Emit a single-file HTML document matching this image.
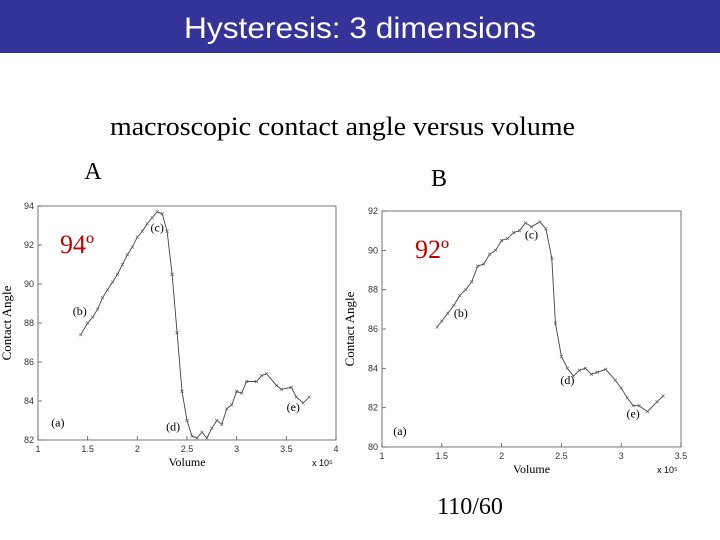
<!DOCTYPE html>
<html><head><meta charset="utf-8"><style>
html,body{margin:0;padding:0;background:#fff;}
svg{display:block;}
</style></head><body>
<svg width="720" height="540" viewBox="0 0 720 540" xmlns="http://www.w3.org/2000/svg">
<rect x="0" y="0" width="720" height="53" fill="#333399"/>
<text x="360" y="38" text-anchor="middle" fill="#fff" font-family="Liberation Sans, sans-serif" font-size="30" textLength="352" lengthAdjust="spacingAndGlyphs">Hysteresis: 3 dimensions</text>
<text x="110" y="135" font-family="Liberation Serif, serif" font-size="26" textLength="465" lengthAdjust="spacingAndGlyphs">macroscopic contact angle versus volume</text>
<text x="93" y="179" text-anchor="middle" font-family="Liberation Serif, serif" font-size="24">A</text>
<text x="439" y="186" text-anchor="middle" font-family="Liberation Serif, serif" font-size="24">B</text>
<text x="470" y="514" text-anchor="middle" font-family="Liberation Serif, serif" font-size="24">110/60</text>
<g id="chartA"></g>
<g id="chartB"></g>
</svg>
<script>
const aVolume=[1.43,1.5,1.55,1.6,1.65,1.7,1.75,1.8,1.85,1.9,1.95,2.0,2.05,2.1,2.15,2.2,2.25,2.3,2.35,2.4,2.45,2.5,2.55,2.6,2.65,2.7,2.75,2.8,2.85,2.9,2.95,3.0,3.05,3.1,3.2,3.25,3.3,3.4,3.45,3.55,3.6,3.67,3.73];
const aAngle=[87.4,88,88.3,88.7,89.3,89.7,90.1,90.5,91,91.5,91.9,92.4,92.7,93.1,93.4,93.7,93.6,92.7,90.5,87.5,84.5,83,82.2,82.1,82.4,82.1,82.6,83,82.8,83.6,83.8,84.5,84.4,85,85,85.3,85.4,84.8,84.6,84.7,84.2,83.9,84.2];
const bVolume=[1.46,1.5,1.55,1.6,1.65,1.7,1.75,1.8,1.85,1.9,1.95,2.0,2.05,2.1,2.15,2.2,2.25,2.32,2.37,2.42,2.45,2.5,2.55,2.6,2.65,2.7,2.75,2.8,2.87,2.95,3.0,3.05,3.1,3.15,3.22,3.3,3.35];
const bAngle=[86.1,86.4,86.8,87.2,87.7,88,88.4,89.2,89.3,89.8,90,90.5,90.6,90.9,91,91.4,91.2,91.45,91.1,89.6,86.3,84.6,84,83.6,83.9,84,83.7,83.8,83.95,83.4,83,82.5,82.1,82.1,81.8,82.3,82.6];
const aXTicks=["1","1.5","2","2.5","3","3.5","4"];
const aYTicks=["82","84","86","88","90","92","94"];
const bXTicks=["1","1.5","2","2.5","3","3.5"];
const bYTicks=["80","82","84","86","88","90","92"];
const NS="http://www.w3.org/2000/svg";
function mk(p,t,at){const e=document.createElementNS(NS,t);for(const k in at)e.setAttribute(k,at[k]);p.appendChild(e);return e;}
function draw(g,o){
  const sx=v=>o.l+(v-o.x0)/(o.x1-o.x0)*(o.r-o.l);
  const sy=v=>o.b-(v-o.y0)/(o.y1-o.y0)*(o.b-o.t);
  const fr=mk(g,'rect',{x:o.l,y:o.t,width:o.r-o.l,height:o.b-o.t,fill:'none',stroke:'#555','stroke-width':0.8});
  
  
  o.xt.forEach(s=>{const v=parseFloat(s),x=sx(v);
    const tk=mk(g,'line',{x1:x,x2:x,y1:o.b,y2:o.b-4,stroke:'#555','stroke-width':0.8});
    
    
    const t=mk(g,'text',{x:x,y:o.b+12,'text-anchor':'middle','font-family':'Liberation Sans, sans-serif','font-size':9,fill:'#333'});t.textContent=s;
    
    });
  o.yt.forEach(s=>{const v=parseFloat(s),y=sy(v);
    const tk=mk(g,'line',{x1:o.l,x2:o.l+4,y1:y,y2:y,stroke:'#555','stroke-width':0.8});
    
    
    const t=mk(g,'text',{x:o.l-4,y:y+3,'text-anchor':'end','font-family':'Liberation Sans, sans-serif','font-size':9,fill:'#333'});t.textContent=s;
    
    });
  const pts=o.xs.map((v,i)=>sx(v).toFixed(1)+','+sy(o.ys[i]).toFixed(1)).join(' ');
  const pl=mk(g,'polyline',{points:pts,fill:'none',stroke:'#444','stroke-width':0.9});
  
  
  o.xs.forEach((v,i)=>{const x=sx(v),y=sy(o.ys[i]);
    const m=mk(g,'path',{d:`M${x-1.5},${y-1.5}L${x+1.5},${y+1.5}M${x-1.5},${y+1.5}L${x+1.5},${y-1.5}`,stroke:'#555','stroke-width':0.6});
    
    });
  const xl=mk(g,'text',{x:(o.l+o.r)/2,y:o.b+26,'text-anchor':'middle','font-family':'Liberation Serif, serif','font-size':12});xl.textContent='Volume';
  
  
  const xe=mk(g,'text',{x:o.r-24,y:o.b+26,'font-family':'Liberation Sans, sans-serif','font-size':9});xe.textContent='x 10\u2075';
  
  
  const yl=mk(g,'text',{x:0,y:0,'text-anchor':'middle','font-family':'Liberation Serif, serif','font-size':13,transform:`translate(${o.ylx},${(o.t+o.b)/2}) rotate(-90)`});yl.textContent='Contact Angle';
  
  
  o.ann.forEach(a=>{const t=mk(g,'text',{x:sx(a[1]),y:sy(a[2]),'text-anchor':'middle','font-family':'Liberation Serif, serif','font-size':12});t.textContent=a[0];
    
    });
  const big=mk(g,'text',{x:o.bx,y:o.by,'font-family':'Liberation Serif, serif','font-size':26,fill:'#c00000'});big.textContent=o.big;
  
  
}
draw(document.getElementById('chartA'),{l:38,r:336,t:206,b:440,x0:1,x1:4,y0:82,y1:94,xt:aXTicks,yt:aYTicks,xs:aVolume,ys:aAngle,ylx:11,
  ann:[['(a)',1.2,82.7],['(b)',1.42,88.4],['(c)',2.2,92.7],['(d)',2.36,82.5],['(e)',3.57,83.5]],big:'94º',bx:60,by:253});
draw(document.getElementById('chartB'),{l:382,r:681,t:211,b:447,x0:1,x1:3.5,y0:80,y1:92,xt:bXTicks,yt:bYTicks,xs:bVolume,ys:bAngle,ylx:354,
  ann:[['(a)',1.15,80.6],['(b)',1.66,86.6],['(c)',2.25,90.6],['(d)',2.55,83.2],['(e)',3.1,81.5]],big:'92º',bx:415,by:258});
</script>
</body></html>
